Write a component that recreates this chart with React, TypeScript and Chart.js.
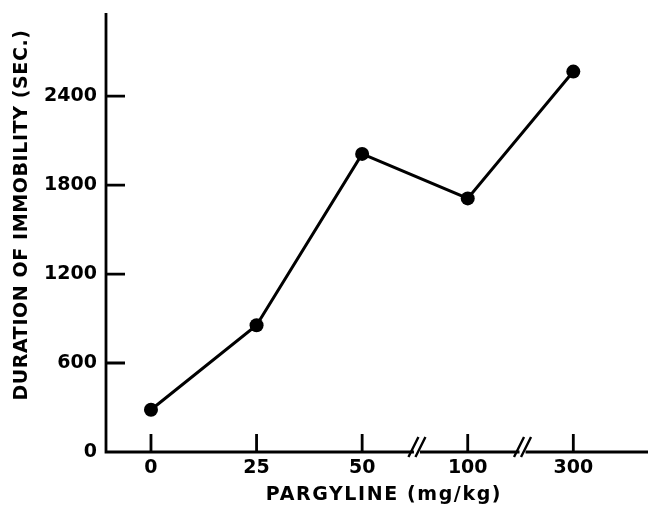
import { useEffect, useRef } from "react";
import { Chart, registerables } from "chart.js";

Chart.register(...registerables);

// ---- data ----
const doseLabels = ["0", "25", "50", "100", "300"];
const immobilitySeconds = [285, 855, 2010, 1710, 2565];
const yTickValues = [0, 600, 1200, 1800, 2400];
const axisBreaksAfter = [2, 3];
const yTitle = "DURATION OF IMMOBILITY (SEC.)";
const xTitle = "PARGYLINE (mg/kg)";

const FONT = "'DejaVu Sans', 'Liberation Sans', sans-serif";

const zeroPad = (s: any) => {
  s.paddingTop = 0;
  s.paddingBottom = 0;
  s.paddingLeft = 0;
  s.paddingRight = 0;
};

const handAxes = {
  id: "handAxes",
  beforeDatasetsDraw(chart: any) {
    const { ctx, chartArea: ca, scales } = chart;
    const x = scales.x;
    const y = scales.y;
    ctx.save();
    ctx.strokeStyle = "#000";
    ctx.lineWidth = 2.8;
    ctx.beginPath();
    ctx.moveTo(ca.left, ca.top);
    ctx.lineTo(ca.left, ca.bottom + 1.4);
    ctx.moveTo(ca.left - 1.4, ca.bottom);
    ctx.lineTo(Math.max(ca.right, chart.width - 2), ca.bottom);
    yTickValues.forEach((v) => {
      if (v === 0) return;
      const py = y.getPixelForValue(v);
      ctx.moveTo(ca.left, py);
      ctx.lineTo(ca.left + 19, py);
    });
    doseLabels.forEach((_, i) => {
      const px = x.getPixelForValue(i);
      ctx.moveTo(px, ca.bottom);
      ctx.lineTo(px, ca.bottom - 18);
    });
    ctx.stroke();
    axisBreaksAfter.forEach((i) => {
      const cx = (x.getPixelForValue(i) + x.getPixelForValue(i + 1)) / 2 + 2;
      const yb = ca.bottom;
      ctx.fillStyle = "#fff";
      ctx.fillRect(cx - 3, yb - 3, 6, 6);
      ctx.beginPath();
      [-3.5, 3.5].forEach((o) => {
        ctx.moveTo(cx + o - 5, yb + 5);
        ctx.lineTo(cx + o + 5, yb - 15);
      });
      ctx.lineWidth = 2.4;
      ctx.stroke();
    });
    ctx.restore();
  },
  afterDraw(chart: any) {
    const { ctx } = chart;
    ctx.save();
    ctx.fillStyle = "#000";
    ctx.textAlign = "center";
    ctx.textBaseline = "middle";
    ctx.font = `bold 19px ${FONT}`;
    (ctx as any).letterSpacing = "1.6px";
    ctx.fillText(xTitle, 384, 495);
    (ctx as any).letterSpacing = "0.6px";
    ctx.translate(22, 215);
    ctx.rotate(-Math.PI / 2);
    ctx.fillText(yTitle, 0, 0);
    ctx.restore();
  },
};

export default function App() {
  const ref = useRef<HTMLCanvasElement | null>(null);

  useEffect(() => {
    if (!ref.current) return;
    const chart = new Chart(ref.current, {
      type: "line",
      data: {
        datasets: [
          {
            data: immobilitySeconds.map((v, i) => ({ x: i, y: v })),
            borderColor: "#000",
            borderWidth: 3,
            pointRadius: 7,
            pointBackgroundColor: "#000",
            pointBorderWidth: 0,
            tension: 0,
            clip: false as any,
          },
        ],
      },
      options: {
        animation: false,
        responsive: false,
        events: [],
        layout: { padding: { top: 13, right: 0, left: 0, bottom: 0 } },
        plugins: { legend: { display: false }, tooltip: { enabled: false } },
        scales: {
          x: {
            type: "linear",
            min: -0.426,
            max: 4.66,
            grid: { display: false, drawTicks: false },
            border: { display: false },
            afterFit: (s: any) => {
              s.height = 58;
              zeroPad(s);
            },
            afterBuildTicks: (s: any) => {
              s.ticks = doseLabels.map((_, i) => ({ value: i }));
            },
            ticks: {
              padding: 5,
              color: "#000",
              font: { family: FONT, size: 19, weight: "bold" },
              maxRotation: 0,
              callback: (v: any) => doseLabels[Math.round(Number(v))] ?? "",
            },
          },
          y: {
            type: "linear",
            min: 0,
            max: 2960,
            grid: { display: false, drawTicks: false },
            border: { display: false },
            afterFit: (s: any) => {
              s.width = 106;
              zeroPad(s);
            },
            afterBuildTicks: (s: any) => {
              s.ticks = yTickValues.map((v) => ({ value: v }));
            },
            ticks: {
              padding: 9,
              color: "#000",
              font: { family: FONT, size: 19, weight: "bold" },
              callback: (v: any) => String(v),
            },
          },
        },
      },
      plugins: [handAxes],
    });
    return () => chart.destroy();
  }, []);

  return (
    <div style={{ position: "fixed", left: 0, top: 0, width: 650, height: 510, background: "#fff" }}>
      <canvas ref={ref} width={650} height={510} />
    </div>
  );
}
